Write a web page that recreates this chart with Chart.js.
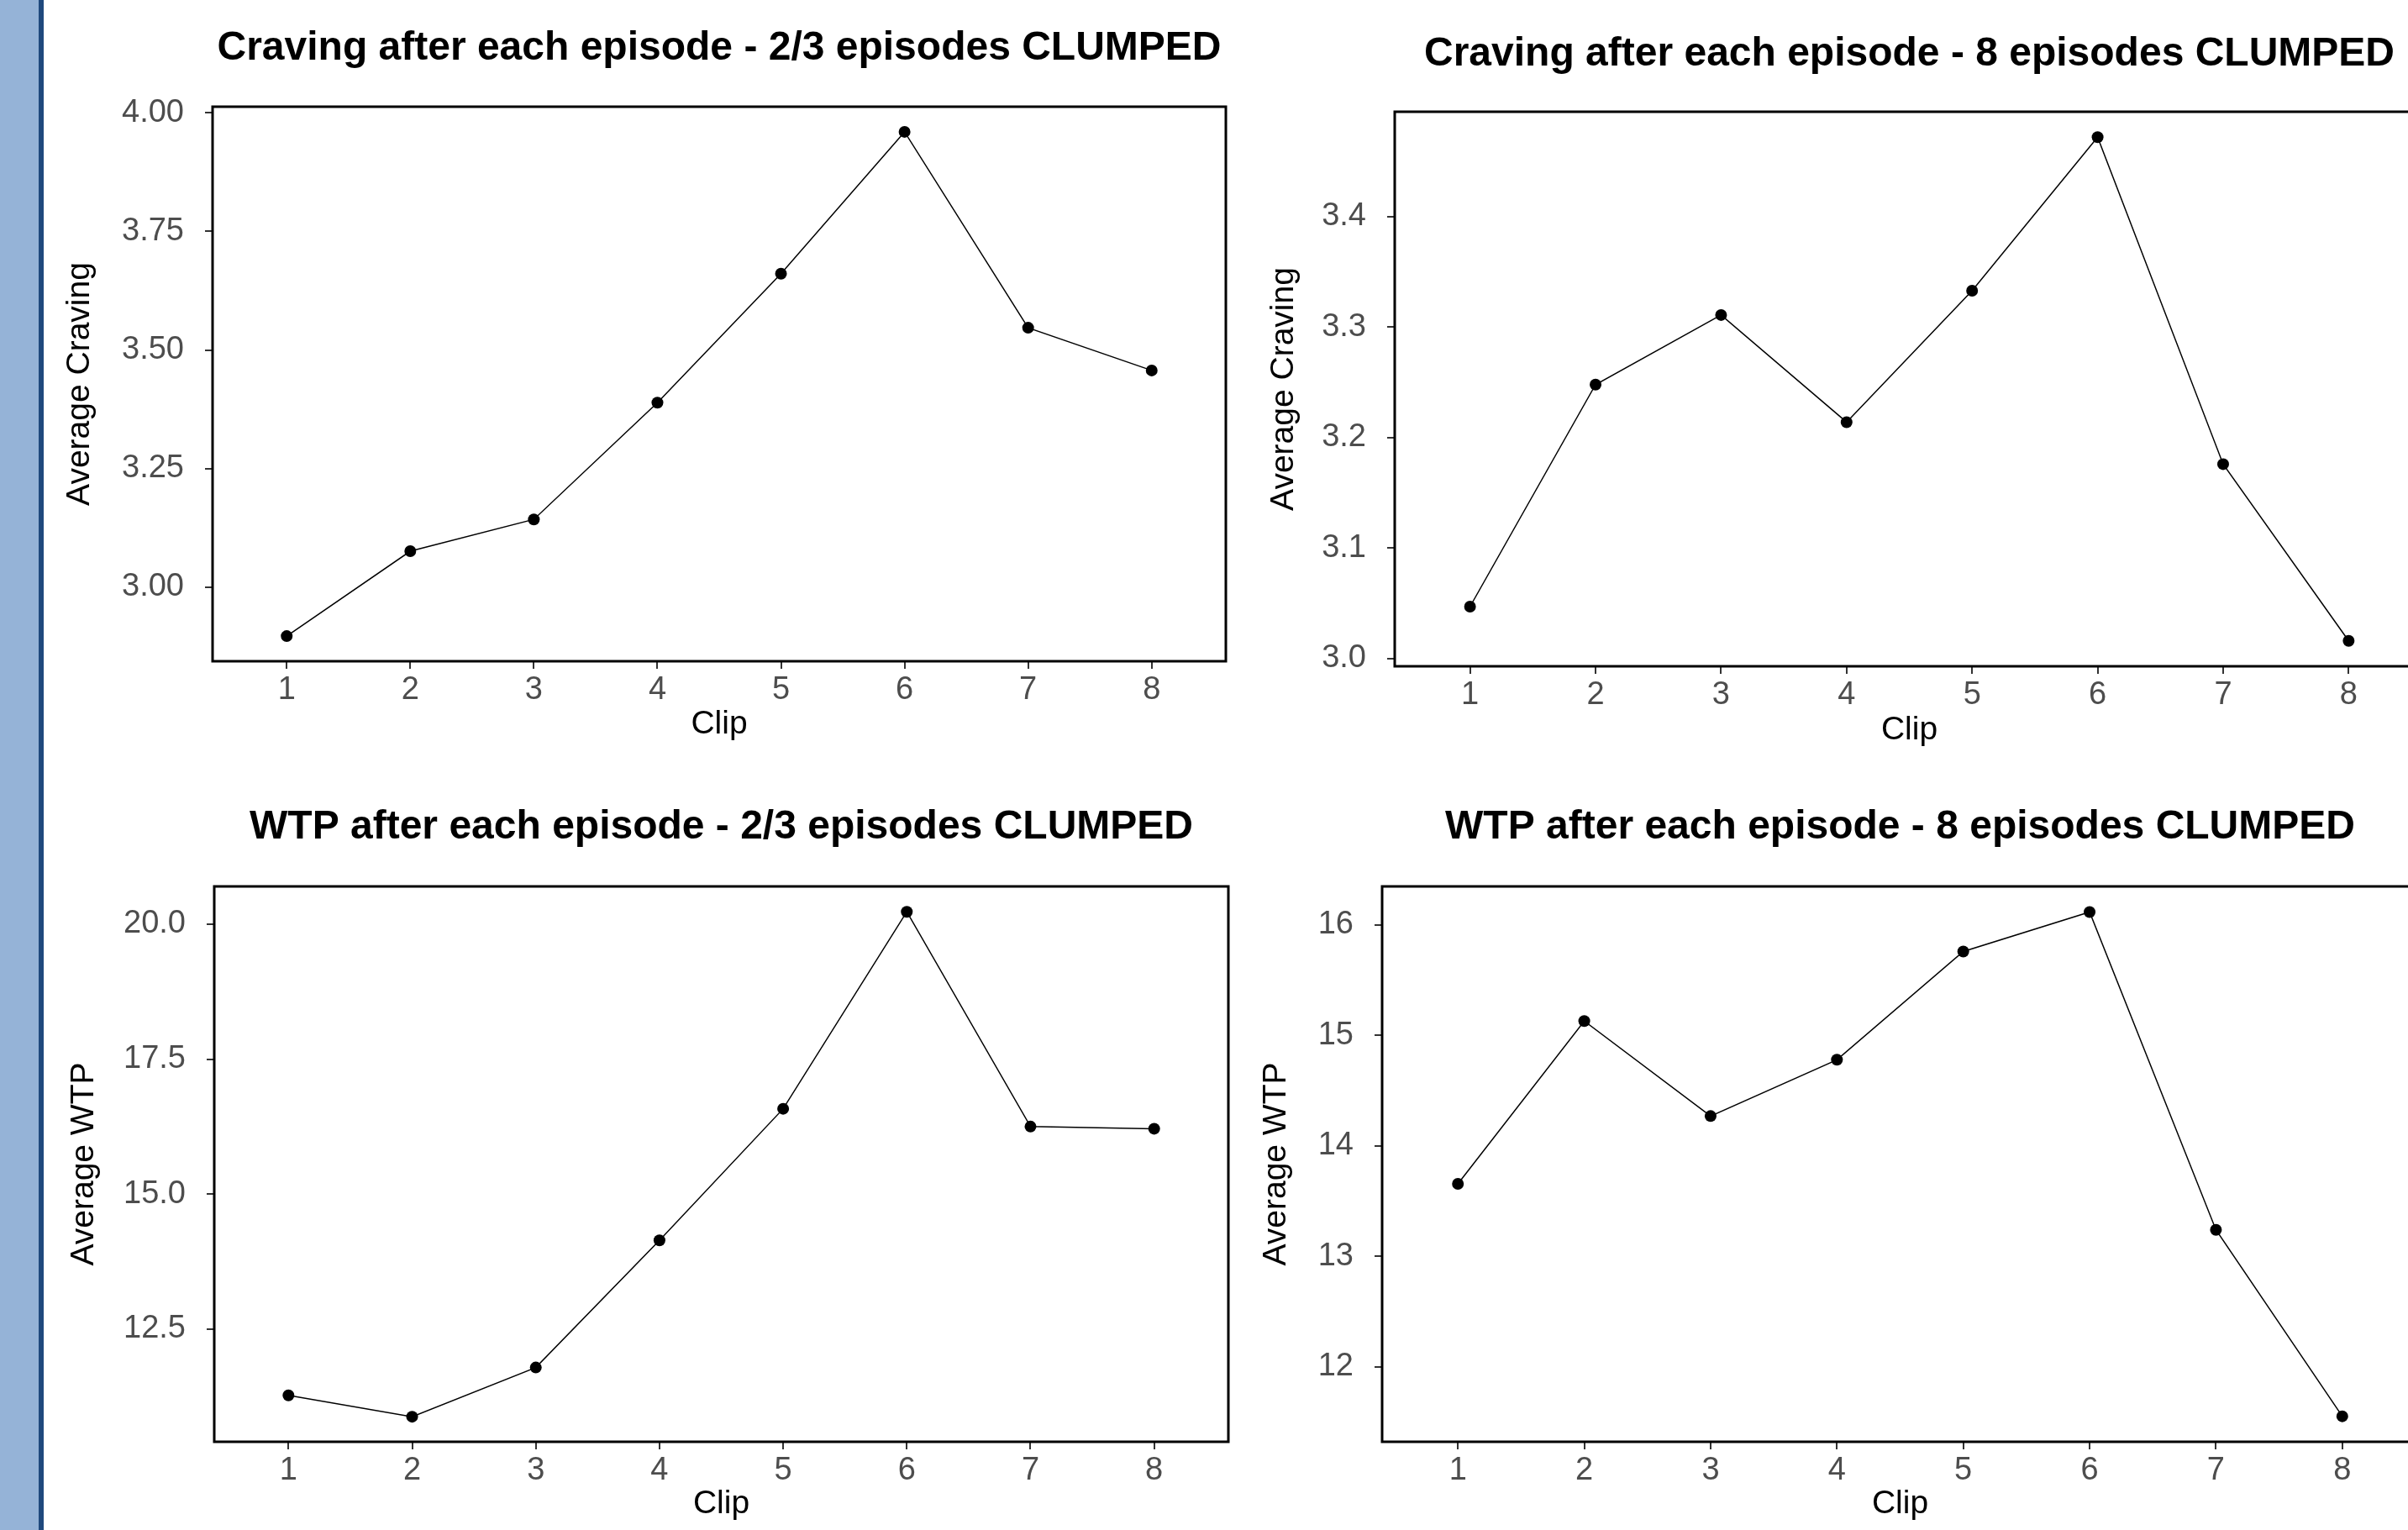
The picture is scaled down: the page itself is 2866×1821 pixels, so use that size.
<!DOCTYPE html>
<html>
<head>
<meta charset="utf-8">
<script src="https://cdn.jsdelivr.net/npm/chart.js@4.4.1/dist/chart.umd.min.js"></script>
<style>
  html, body { margin: 0; padding: 0; background: #fff; overflow: hidden; width: 2866px; height: 1821px; }
  canvas { position: absolute; }
  #bar { position: absolute; left: 0; top: 0; width: 46px; height: 1821px; background: #95b3d7; border-right: 6px solid #1f497d; }
</style>
</head>
<body>
<canvas id="cravingA"></canvas>
<canvas id="cravingB"></canvas>
<canvas id="wtpA"></canvas>
<canvas id="wtpB"></canvas>
<div id="bar"></div>
<script>
// clip number on the x axis
const clips = [1, 2, 3, 4, 5, 6, 7, 8];

// average craving / WTP per clip
const cravingClumped23 = [2.897, 3.076, 3.143, 3.389, 3.661, 3.960, 3.547, 3.457];
const cravingClumped8 = [3.047, 3.248, 3.311, 3.214, 3.333, 3.472, 3.176, 3.016];
const wtpClumped23 = [11.27, 10.875, 11.786, 14.143, 16.58, 20.23, 16.25, 16.21];
const wtpClumped8 = [13.656, 15.131, 14.270, 14.78, 15.76, 16.118, 13.24, 11.551];

// y tick labels
const cravingTicks23 = [3.0, 3.25, 3.5, 3.75, 4.0];
const cravingTicks8 = [3.0, 3.1, 3.2, 3.3, 3.4];
const wtpTicks23 = [12.5, 15.0, 17.5, 20.0];
const wtpTicks8 = [12, 13, 14, 15, 16];

const fontFamily = "'Liberation Sans', Arial, sans-serif";
const titleSize = 48;
const axisTitleSize = 39;
const tickSize = 38;
const xAxisHeight = 110;

const framePlugin = {
  id: "frame",
  afterDatasetsDraw(chart) {
    const { ctx, chartArea: a } = chart;
    ctx.save();
    ctx.strokeStyle = "#000";
    ctx.lineWidth = 3;
    ctx.strokeRect(a.left, a.top, a.right - a.left, a.bottom - a.top);
    ctx.restore();
  },
};

function makeChart(id, box, spec) {
  const canvas = document.getElementById(id);
  const width = box.plotRight + 10 - box.left;
  const height = box.plotBottom + xAxisHeight - box.top;
  canvas.width = width;
  canvas.height = height;
  canvas.style.left = box.left + "px";
  canvas.style.top = box.top + "px";

  const titleLh = titleSize * 1.2;
  const titlePadTop = box.titleY - box.top - titleLh / 2;
  const titlePadBottom = box.plotTop - box.top - titlePadTop - titleLh;
  const axisLh = axisTitleSize * 1.2;
  const yAxisWidth = box.plotLeft - box.left;

  return new Chart(canvas, {
    type: "line",
    data: {
      datasets: [
        {
          data: clips.map((c, i) => ({ x: c, y: spec.values[i] })),
          borderColor: "#000",
          backgroundColor: "#000",
          borderWidth: 1.5,
          pointRadius: 7,
          pointBorderWidth: 0,
          tension: 0,
          fill: false,
        },
      ],
    },
    options: {
      responsive: false,
      animation: false,
      devicePixelRatio: 1,
      layout: { padding: { left: 0, right: 10, top: 0, bottom: 0 } },
      plugins: {
        legend: { display: false },
        tooltip: { enabled: false },
        title: {
          display: true,
          text: spec.title,
          fullSize: false,
          color: "#000",
          font: { family: fontFamily, size: titleSize, weight: "bold", lineHeight: 1.2 },
          padding: { top: titlePadTop, bottom: titlePadBottom },
        },
      },
      scales: {
        x: {
          type: "linear",
          min: 0.4,
          max: 8.6,
          afterBuildTicks: (scale) => {
            scale.ticks = clips.map((v) => ({ value: v }));
          },
          afterFit: (scale) => {
            scale.height = xAxisHeight;
          },
          grid: { drawOnChartArea: false, drawTicks: true, tickLength: 9, color: "#333", lineWidth: 2 },
          border: { display: false },
          ticks: {
            color: "#4d4d4d",
            padding: 3,
            maxRotation: 0,
            font: { family: fontFamily, size: tickSize, lineHeight: 1.2 },
            callback: (v) => String(v),
          },
          title: {
            display: true,
            text: "Clip",
            color: "#000",
            font: { family: fontFamily, size: axisTitleSize, lineHeight: 1.2 },
            padding: { top: 0, bottom: xAxisHeight - (box.xTitleY - box.plotBottom) - axisLh / 2 },
          },
        },
        y: {
          type: "linear",
          min: spec.min,
          max: spec.max,
          afterBuildTicks: (scale) => {
            scale.ticks = spec.ticks.map((v) => ({ value: v }));
          },
          afterFit: (scale) => {
            scale.width = yAxisWidth;
          },
          grid: { drawOnChartArea: false, drawTicks: true, tickLength: 9, color: "#333", lineWidth: 2 },
          border: { display: false },
          ticks: {
            color: "#4d4d4d",
            padding: 25,
            font: { family: fontFamily, size: tickSize, lineHeight: 1.2 },
            callback: (v) => Number(v).toFixed(spec.decimals),
          },
          title: {
            display: true,
            text: spec.yTitle,
            color: "#000",
            font: { family: fontFamily, size: axisTitleSize, lineHeight: 1.2 },
            padding: { top: box.yTitleX - box.left - axisLh / 2, bottom: 0 },
          },
        },
      },
    },
    plugins: [framePlugin],
  });
}

makeChart(
  "cravingA",
  { left: 53, top: 0, plotLeft: 253, plotTop: 127, plotRight: 1459, plotBottom: 787, titleY: 58, yTitleX: 95, xTitleY: 862 },
  { title: "Craving after each episode - 2/3 episodes CLUMPED", yTitle: "Average Craving", values: cravingClumped23, ticks: cravingTicks23, decimals: 2, min: 2.844, max: 4.013 }
);
makeChart(
  "cravingB",
  { left: 1460, top: 0, plotLeft: 1660, plotTop: 133, plotRight: 2885, plotBottom: 793, titleY: 65, yTitleX: 1528, xTitleY: 869 },
  { title: "Craving after each episode - 8 episodes CLUMPED", yTitle: "Average Craving", values: cravingClumped8, ticks: cravingTicks8, decimals: 1, min: 2.993, max: 3.495 }
);
makeChart(
  "wtpA",
  { left: 55, top: 900, plotLeft: 255, plotTop: 1055, plotRight: 1462, plotBottom: 1716, titleY: 985, yTitleX: 100, xTitleY: 1790 },
  { title: "WTP after each episode - 2/3 episodes CLUMPED", yTitle: "Average WTP", values: wtpClumped23, ticks: wtpTicks23, decimals: 1, min: 10.41, max: 20.70 }
);
makeChart(
  "wtpB",
  { left: 1445, top: 900, plotLeft: 1645, plotTop: 1055, plotRight: 2878, plotBottom: 1716, titleY: 985, yTitleX: 1519, xTitleY: 1790 },
  { title: "WTP after each episode - 8 episodes CLUMPED", yTitle: "Average WTP", values: wtpClumped8, ticks: wtpTicks8, decimals: 0, min: 11.32, max: 16.35 }
);
</script>
</body>
</html>
